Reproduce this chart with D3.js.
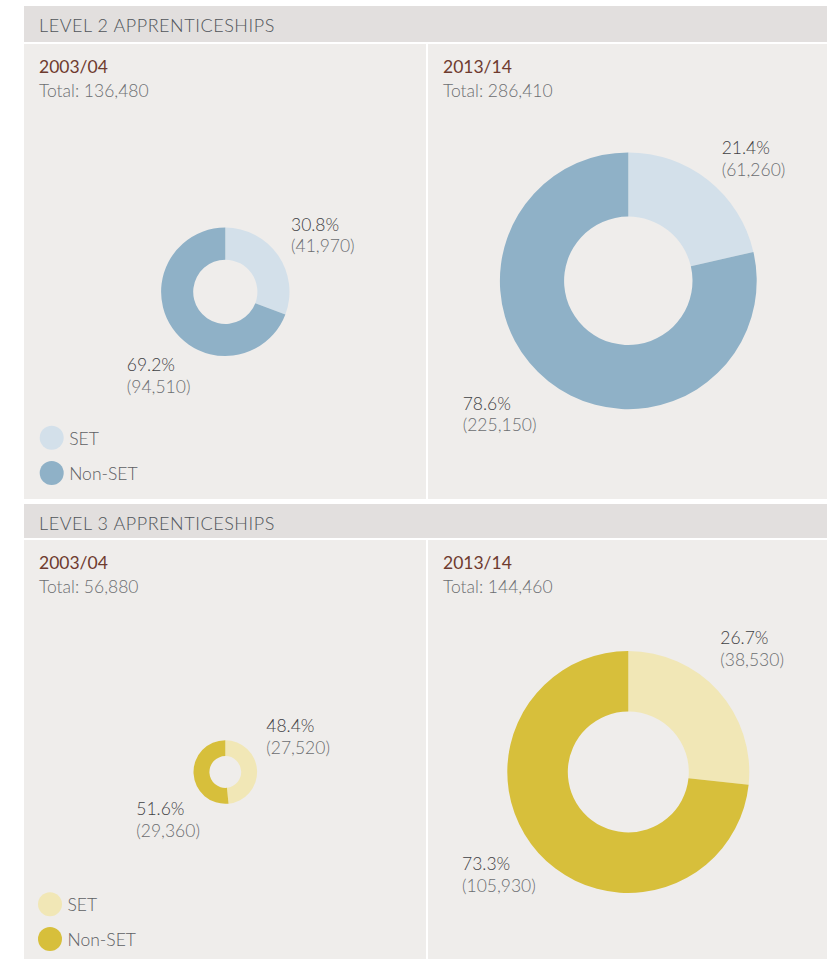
<!DOCTYPE html>
<html>
<head>
<meta charset="utf-8">
<script src="https://cdn.jsdelivr.net/npm/d3@7"></script>
<style>
  body { margin: 0; background: #ffffff; }
  svg { display: block; font-family: Lato, 'Open Sans', sans-serif; }
</style>
</head>
<body>
<div id="graf"></div>
<script>
// Datos
niveles = ['LEVEL 2 APPRENTICESHIPS', 'LEVEL 3 APPRENTICESHIPS']
anios = ['2003/04', '2013/14']
totales = [[136480, 286410], [56880, 144460]]
setVals = [[41970, 61260], [27520, 38530]]
nonSetVals = [[94510, 225150], [29360, 105930]]
setPct = ['30.8%', '21.4%', '48.4%', '26.7%']
nonSetPct = ['69.2%', '78.6%', '51.6%', '73.3%']
categorias = ['SET', 'Non-SET']

// Colores por nivel
colores = [
  d3.scaleOrdinal().domain(categorias).range(['#d3e0ea', '#8fb1c7']),
  d3.scaleOrdinal().domain(categorias).range(['#f1e7b6', '#d7bf3b'])
]

// I. Configuración
ancho_total = 827
alto_total = 959

svg = d3.select('#graf').append('svg')
        .attr('width', ancho_total)
        .attr('height', alto_total)

// Posiciones de cada bloque (cabecera y panel)
bloques = [
  { headTop: 6, headBot: 42, panTop: 44, panBot: 499 },
  { headTop: 504, headBot: 538, panTop: 540, panBot: 959 }
]
col = [{ x0: 24, x1: 426, tx: 39, cx: 225.3 }, { x0: 428, x1: 827, tx: 443, cx: 628.3 }]
centroY = [[291.8, 280.8], [772, 772]]

// Radio: escala a partir del total
r = d3.scaleLinear()
      .domain([56880, 136480, 144460, 286410])
      .range([31.8, 64.2, 121, 128.4])

// desplazamiento de las etiquetas respecto al centro
etiq = [
  [{ sx: 65.7, sy: -61, nx: -98.5, ny: 79.5 }, { sx: 93.4, sy: -126.8, nx: -165.6, ny: 129.2 }],
  [{ sx: 41, sy: -40, nx: -89, ny: 43 }, { sx: 92, sy: -128, nx: -166.3, ny: 98 }]
]

pie = d3.pie().sort(null).value(d => d.value)
fmt = d3.format(',')

niveles.forEach((nivel, i) => {
  b = bloques[i]

  // cabecera
  svg.append('rect')
    .attr('x', 24).attr('y', b.headTop)
    .attr('width', ancho_total - 24).attr('height', b.headBot - b.headTop)
    .attr('fill', '#e2dfde')
  svg.append('text')
    .attr('x', 39).attr('y', b.headTop + 26)
    .attr('font-size', '18px')
    .attr('font-weight', 300)
    .attr('letter-spacing', '0.55px')
    .attr('fill', '#50555a')
    .text(nivel)

  anios.forEach((anio, j) => {
    c = col[j]
    svg.append('rect')
      .attr('x', c.x0).attr('y', b.panTop)
      .attr('width', c.x1 - c.x0).attr('height', b.panBot - b.panTop)
      .attr('fill', '#efedeb')

    svg.append('text')
      .attr('x', c.tx).attr('y', b.panTop + 29)
      .attr('font-size', '17.5px')
      .attr('fill', '#6e3b2f')
      .text(anio)
    svg.append('text')
      .attr('x', c.tx).attr('y', b.panTop + 53)
      .attr('font-size', '17.5px')
      .attr('font-weight', 300)
      .attr('fill', '#6c6e71')
      .text('Total: ' + fmt(totales[i][j]))

    datos = [
      { cat: 'SET', value: setVals[i][j] },
      { cat: 'Non-SET', value: nonSetVals[i][j] }
    ]
    radio = r(totales[i][j])
    arco = d3.arc().innerRadius(radio * 0.5).outerRadius(radio)

    cy = centroY[i][j]
    g = svg.append('g').attr('transform', `translate(${c.cx}, ${cy})`)
    g.selectAll('path')
      .data(pie(datos))
      .enter()
      .append('path')
        .attr('d', arco)
        .attr('fill', d => colores[i](d.data.cat))

    // etiquetas
    e = etiq[i][j]
    k = i * 2 + j
    lab = [
      { x: e.sx, y: e.sy, pct: setPct[k], val: setVals[i][j] },
      { x: e.nx, y: e.ny, pct: nonSetPct[k], val: nonSetVals[i][j] }
    ]
    lab.forEach(l => {
      g.append('text')
        .attr('x', l.x).attr('y', l.y)
        .attr('font-size', '17.5px')
        .attr('font-weight', 300)
        .attr('fill', '#3f4144')
        .text(l.pct)
      g.append('text')
        .attr('x', l.x).attr('y', l.y + 21.5)
        .attr('font-size', '17.5px')
        .attr('font-weight', 300)
        .attr('fill', '#6c6e71')
        .text('(' + fmt(l.val) + ')')
    })
  })

  // leyenda
  leyY = i == 0 ? [437.7, 473] : [904.3, 939]
  leyX = i == 0 ? 51.7 : 50
  leg = svg.append('g')
  categorias.forEach((cat, m) => {
    leg.append('circle')
      .attr('cx', leyX).attr('cy', leyY[m])
      .attr('r', 12)
      .attr('fill', colores[i](cat))
    leg.append('text')
      .attr('x', leyX + 17.5).attr('y', leyY[m] + 7)
      .attr('font-size', '17.5px')
      .attr('font-weight', 300)
      .attr('fill', '#5e6063')
      .text(cat)
  })
})
</script>
</body>
</html>
